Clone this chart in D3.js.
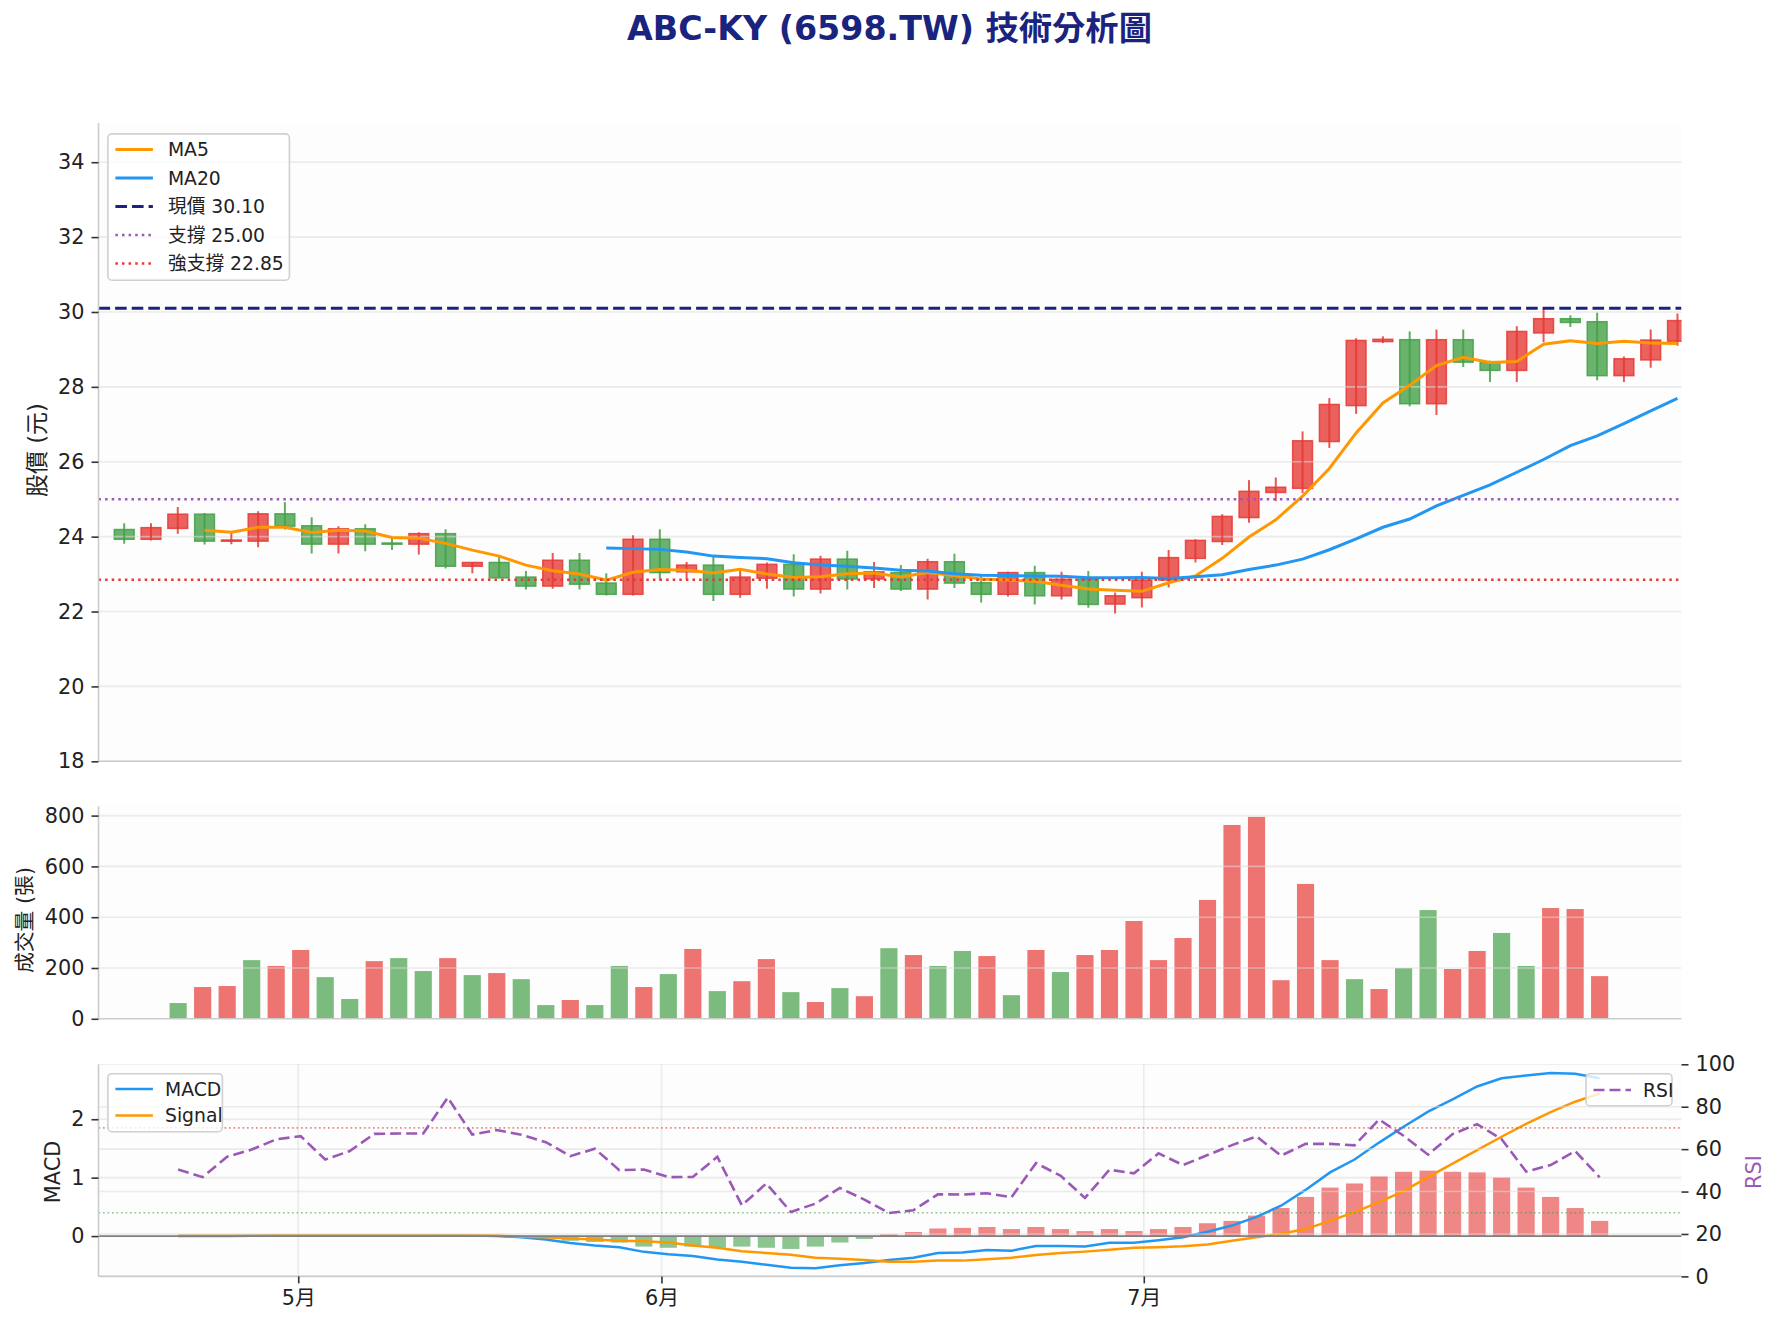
<!DOCTYPE html>
<html><head><meta charset="utf-8">
<script src="https://cdn.jsdelivr.net/npm/d3@7"></script>
<style>body{margin:0;background:#fff} svg{display:block}</style>
</head><body><svg id="c" width="1779" height="1327"></svg>
<script>
// ---------------- DATA ----------------
const openP  = [24.19,23.93,24.22,24.60,23.88,23.88,24.61,24.29,23.80,24.21,23.83,23.80,24.08,23.21,23.31,22.92,22.68,23.37,22.76,22.46,23.93,23.06,23.24,22.46,22.89,23.26,22.60,23.40,22.87,23.04,22.60,23.33,22.77,22.46,23.04,22.42,22.86,22.20,22.37,22.84,23.42,23.87,24.51,25.18,25.29,26.54,27.50,29.21,29.26,27.55,29.26,28.66,28.44,29.44,29.82,29.74,28.30,28.72,29.22];
const highP  = [24.36,24.36,24.79,24.63,24.15,24.68,24.92,24.52,24.28,24.33,23.97,24.12,24.20,23.31,23.50,23.08,23.56,23.56,23.02,24.04,24.20,23.32,23.46,23.08,23.31,23.53,23.49,23.62,23.32,23.24,23.41,23.54,22.95,23.06,23.22,23.06,23.08,22.51,23.06,23.64,23.93,24.60,25.51,25.58,26.81,27.70,29.30,29.35,29.48,29.53,29.53,28.70,29.62,30.12,29.91,29.98,28.81,29.53,29.96];
const lowP   = [23.81,23.90,24.08,23.79,23.80,23.72,24.19,23.55,23.55,23.61,23.64,23.52,23.15,23.02,22.90,22.59,22.61,22.59,22.43,22.43,22.84,22.86,22.28,22.37,22.61,22.40,22.48,22.59,22.63,22.55,22.32,22.63,22.24,22.40,22.19,22.32,22.10,21.95,22.11,22.64,23.31,23.78,24.37,24.95,25.16,26.37,27.28,29.17,27.48,27.25,28.53,28.13,28.13,29.19,29.60,28.18,28.13,28.51,29.10];
const closeP = [23.93,24.24,24.60,23.88,23.91,24.61,24.28,23.80,24.21,23.80,23.81,24.08,23.21,23.31,22.90,22.68,23.37,22.73,22.46,23.93,23.04,23.24,22.46,22.92,23.26,22.60,23.40,22.87,23.06,22.60,23.33,22.76,22.46,23.04,22.42,22.86,22.19,22.42,22.84,23.44,23.90,24.54,25.21,25.32,26.56,27.53,29.24,29.27,27.55,29.26,28.66,28.44,29.48,29.82,29.72,28.30,28.75,29.25,29.77];
const ma5  = [null,null,null,24.17,24.12,24.25,24.25,24.11,24.17,24.15,23.98,23.96,23.82,23.64,23.48,23.24,23.09,23.00,22.84,23.05,23.12,23.10,23.03,23.13,23.00,22.91,22.93,23.01,23.03,22.92,23.04,22.96,22.87,22.84,22.81,22.70,22.60,22.57,22.54,22.77,22.95,23.42,23.99,24.45,25.08,25.82,26.77,27.57,28.04,28.57,28.79,28.65,28.68,29.14,29.23,29.16,29.22,29.17,29.16];
const ma20 = [null,null,null,null,null,null,null,null,null,null,null,null,null,null,null,null,null,null,23.70,23.68,23.66,23.59,23.48,23.44,23.41,23.30,23.24,23.21,23.16,23.10,23.08,23.01,22.97,22.96,22.95,22.94,22.90,22.90,22.91,22.88,22.93,22.98,23.12,23.24,23.40,23.65,23.94,24.25,24.47,24.82,25.10,25.38,25.72,26.06,26.43,26.69,27.02,27.36,27.69];
const volume = [62,125,129,231,208,271,164,78,227,239,188,239,172,180,156,54,74,54,208,125,176,275,109,148,235,105,66,121,89,278,251,208,267,247,93,271,184,251,271,385,231,318,468,763,795,152,531,231,156,117,200,428,196,267,338,208,436,432,168];
const macd   = [0,0,0,0.005,0.01,0.01,0.01,0.01,0.01,0.01,0.01,0.015,0.01,0,-0.02,-0.06,-0.12,-0.16,-0.19,-0.27,-0.31,-0.34,-0.40,-0.44,-0.49,-0.54,-0.55,-0.50,-0.46,-0.41,-0.37,-0.29,-0.28,-0.24,-0.25,-0.17,-0.17,-0.18,-0.115,-0.115,-0.07,-0.02,0.075,0.18,0.33,0.52,0.79,1.09,1.31,1.60,1.87,2.13,2.34,2.56,2.70,2.75,2.79,2.78,2.70];
const signal = [0.005,0.005,0.005,0.006,0.008,0.009,0.01,0.01,0.01,0.01,0.01,0.012,0.012,0.01,-0.01,-0.02,-0.04,-0.06,-0.08,-0.09,-0.11,-0.16,-0.20,-0.26,-0.29,-0.32,-0.37,-0.39,-0.41,-0.44,-0.44,-0.42,-0.42,-0.395,-0.37,-0.325,-0.29,-0.266,-0.235,-0.20,-0.19,-0.175,-0.145,-0.08,-0.02,0.04,0.12,0.26,0.41,0.58,0.77,1.01,1.24,1.47,1.70,1.92,2.12,2.30,2.44];
const hist   = [-0.005,-0.005,-0.005,-0.001,0.002,0.001,0,0,0,0,0,0.003,-0.002,-0.01,-0.01,-0.04,-0.08,-0.10,-0.11,-0.18,-0.20,-0.18,-0.20,-0.18,-0.20,-0.22,-0.18,-0.11,-0.05,0.03,0.07,0.13,0.14,0.155,0.12,0.155,0.12,0.086,0.12,0.086,0.12,0.155,0.22,0.26,0.35,0.48,0.67,0.83,0.90,1.02,1.10,1.12,1.10,1.09,1.00,0.83,0.67,0.48,0.26];
const rsi    = [50.4,46.8,56.4,59.8,64.6,66.1,55.1,59.1,67.2,67.4,67.4,84.3,66.9,69.0,66.8,63.3,56.7,60.2,50.1,50.4,46.8,46.9,56.4,33.5,43.8,30.4,34.3,41.7,36.2,29.9,31.2,38.7,38.6,39.2,37.3,53.4,47.5,37.0,50.3,48.6,58.0,52.5,57.2,61.9,66.0,56.9,62.5,62.5,61.8,74.0,66.3,57.4,67.1,71.8,64.7,49.4,52.5,59.1,46.7];
const priceTicks = [18,20,22,24,26,28,30,32,34];
const volTicks = [0,200,400,600,800];
const macdTicks = [0,1,2];
const rsiTicks = [0,20,40,60,80,100];
const monthLabels = ['5月','6月','7月'];
const monthPos = [4.9,19.72,39.4];
const currentPrice = 30.10, support = 25.00, strongSupport = 22.85;
const rsiHigh = 70, rsiLow = 30;

// ---------------- LAYOUT ----------------
const FONT = "'DejaVu Sans','Noto Sans CJK TC','Noto Sans CJK SC',sans-serif";
const svg = d3.select('#c');
const L = 98.5, R = 1681.5;
const pp = {t:122.9, b:761.3}, vp = {t:806.2, b:1018.8}, mp = {t:1064.3, b:1276.4};
const RED = '#e53935', GREEN = '#43a047', BLUE = '#2196f3', ORANGE = '#ff9800', NAVY = '#1a237e', PURPLE = '#9b59b6';
const idx = d3.range(closeP.length);

const xP = d3.scaleLinear().domain([-0.96, 58.15]).range([L, R]);
const xV = d3.scaleLinear().domain([-3.25, 61.34]).range([L, R]);
const yP = d3.scaleLinear().domain([18, 35.05]).range([pp.b, pp.t]);
const yV = d3.scaleLinear().domain([0, 837]).range([vp.b, vp.t]);
const yM = d3.scaleLinear().domain([-0.69, 2.94]).range([mp.b, mp.t]);
const yR = d3.scaleLinear().domain([0, 100]).range([mp.b, mp.t]);

const defs = svg.append('defs');
function panel(name, p){
  defs.append('clipPath').attr('id','clip-'+name).append('rect')
    .attr('x',L).attr('y',p.t).attr('width',R-L).attr('height',p.b-p.t);
  svg.append('rect').attr('x',L).attr('y',p.t).attr('width',R-L).attr('height',p.b-p.t).attr('fill','#fdfdfd');
  return svg.append('g').attr('clip-path','url(#clip-'+name+')');
}
function hgrid(g, scale, ticks){
  g.selectAll(null).data(ticks).enter().append('line')
    .attr('x1',L).attr('x2',R).attr('y1',d=>scale(d)).attr('y2',d=>scale(d))
    .attr('stroke','#dcdcdc').attr('stroke-opacity',0.55).attr('stroke-width',1.6);
}
function leftAxis(scale, ticks, fmt){
  const g = svg.append('g').attr('transform',`translate(${L},0)`)
    .call(d3.axisLeft(scale).tickValues(ticks).tickSize(7).tickPadding(7).tickFormat(fmt||d3.format('d')));
  g.select('.domain').remove();
  g.selectAll('.tick line').attr('stroke','#333').attr('stroke-width',1.6);
  g.selectAll('.tick text').attr('font-family',FONT).attr('font-size',20.8).attr('fill','#222');
  return g;
}
function spines(p){
  svg.append('line').attr('x1',L).attr('x2',L).attr('y1',p.t).attr('y2',p.b).attr('stroke','#cccccc').attr('stroke-width',1.6);
  svg.append('line').attr('x1',L).attr('x2',R).attr('y1',p.b).attr('y2',p.b).attr('stroke','#cccccc').attr('stroke-width',1.6);
}
function ylabel(text, x, y, size, color){
  svg.append('text').attr('transform',`translate(${x},${y}) rotate(-90)`)
    .attr('text-anchor','middle').attr('dy','0.35em')
    .attr('font-family',FONT).attr('font-size',size).attr('fill',color||'#222').text(text);
}

// ---------------- TITLE ----------------
svg.append('text').attr('x',889.5).attr('y',40).attr('text-anchor','middle')
  .attr('font-family',FONT).attr('font-weight','bold').attr('font-size',33.3).attr('fill',NAVY)
  .text('ABC-KY (6598.TW) 技術分析圖');

// ---------------- PRICE PANEL ----------------
const gP = panel('p', pp);
const bw = (xP(1)-xP(0))*0.74;
const up = i => closeP[i] >= openP[i];
gP.selectAll('.body').data(idx).enter().append('rect')
  .attr('x',i=>xP(i)-bw/2).attr('width',bw)
  .attr('y',i=>yP(Math.max(openP[i],closeP[i])))
  .attr('height',i=>Math.max(1.2, Math.abs(yP(openP[i])-yP(closeP[i]))))
  .attr('fill',i=>up(i)?RED:GREEN).attr('fill-opacity',0.8)
  .attr('stroke',i=>up(i)?RED:GREEN).attr('stroke-opacity',0.85).attr('stroke-width',1.5);
hgrid(gP, yP, priceTicks);
gP.selectAll('.wick').data(idx).enter().append('line')
  .attr('x1',i=>xP(i)).attr('x2',i=>xP(i)).attr('y1',i=>yP(highP[i])).attr('y2',i=>yP(lowP[i]))
  .attr('stroke',i=>up(i)?RED:GREEN).attr('stroke-opacity',0.85).attr('stroke-width',2);
const lineP = d3.line().defined(d=>d[1]!=null).x(d=>xP(d[0])).y(d=>yP(d[1]));
gP.append('path').attr('d',lineP(idx.map(i=>[i,ma5[i]]))).attr('fill','none').attr('stroke',ORANGE).attr('stroke-width',3);
gP.append('path').attr('d',lineP(idx.map(i=>[i,ma20[i]]))).attr('fill','none').attr('stroke',BLUE).attr('stroke-width',3);
const hl = [
  {v:currentPrice, c:NAVY, w:3.1, dash:'11.6,5', o:1},
  {v:support, c:PURPLE, w:2.5, dash:'2.5,4.1', o:1},
  {v:strongSupport, c:RED, w:2.5, dash:'2.5,4.1', o:1}
];
gP.selectAll('.hl').data(hl).enter().append('line')
  .attr('x1',L).attr('x2',R).attr('y1',d=>yP(d.v)).attr('y2',d=>yP(d.v))
  .attr('stroke',d=>d.c).attr('stroke-width',d=>d.w).attr('stroke-dasharray',d=>d.dash).attr('opacity',d=>d.o);
spines(pp);
leftAxis(yP, priceTicks);
ylabel('股價 (元)', 36.5, 450, 22.9);

// legend
function legend(x, y, w, h, items, rowY, hx1, hx2, tx){
  const g = svg.append('g');
  g.append('rect').attr('x',x).attr('y',y).attr('width',w).attr('height',h).attr('rx',4)
    .attr('fill','#fff').attr('fill-opacity',0.8).attr('stroke','#d0d0d0').attr('stroke-width',1.6);
  items.forEach((it,k)=>{
    const yy = rowY[k];
    g.append('line').attr('x1',hx1).attr('x2',hx2).attr('y1',yy).attr('y2',yy)
      .attr('stroke',it.c).attr('stroke-width',it.w).attr('stroke-dasharray',it.dash||null);
    g.append('text').attr('x',tx).attr('y',yy).attr('dy','0.36em').attr('font-family',FONT)
      .attr('font-size',18.75).attr('fill','#222').text(it.label);
  });
}
legend(107.9, 133.9, 181.5, 146.3, [
  {label:'MA5', c:ORANGE, w:3},
  {label:'MA20', c:BLUE, w:3},
  {label:'現價 ' + currentPrice.toFixed(2), c:NAVY, w:3.1, dash:'11.6,5'},
  {label:'支撐 ' + support.toFixed(2), c:PURPLE, w:2.5, dash:'2.5,4.1'},
  {label:'強支撐 ' + strongSupport.toFixed(2), c:RED, w:2.5, dash:'2.5,4.1'}
], [149.5,178,206.5,235,263.5], 115.4, 152.9, 167.9);

// ---------------- VOLUME PANEL ----------------
const gV = panel('v', vp);
const vbw = (xV(1)-xV(0))*0.7;
gV.selectAll('.vb').data(idx).enter().append('rect')
  .attr('x',i=>xV(i)-vbw/2).attr('width',vbw)
  .attr('y',i=>yV(volume[i])).attr('height',i=>yV(0)-yV(volume[i]))
  .attr('fill',i=>up(i)?RED:GREEN).attr('fill-opacity',0.7);
hgrid(gV, yV, volTicks);
spines(vp);
leftAxis(yV, volTicks);
ylabel('成交量 (張)', 24.5, 920, 20.8);

// ---------------- MACD / RSI PANEL ----------------
const gM = panel('m', mp);
hgrid(gM, yM, macdTicks);
gM.selectAll('.vg').data(monthPos).enter().append('line')
  .attr('x1',d=>xV(d)).attr('x2',d=>xV(d)).attr('y1',mp.t).attr('y2',mp.b)
  .attr('stroke','#dcdcdc').attr('stroke-opacity',0.55).attr('stroke-width',1.6);
gM.selectAll('.hb').data(idx).enter().append('rect')
  .attr('x',i=>xV(i)-vbw/2).attr('width',vbw)
  .attr('y',i=>yM(Math.max(0,hist[i]))).attr('height',i=>Math.abs(yM(hist[i])-yM(0)))
  .attr('fill',i=>hist[i]>=0?RED:GREEN).attr('fill-opacity',0.6);
const lineM = d3.line().x(d=>xV(d[0])).y(d=>yM(d[1]));
gM.append('path').attr('d',lineM(idx.map(i=>[i,macd[i]]))).attr('fill','none').attr('stroke',BLUE).attr('stroke-width',2.5);
gM.append('path').attr('d',lineM(idx.map(i=>[i,signal[i]]))).attr('fill','none').attr('stroke',ORANGE).attr('stroke-width',2.5);
gM.append('line').attr('x1',L).attr('x2',R).attr('y1',yM(0)).attr('y2',yM(0)).attr('stroke','#808080').attr('stroke-width',1.7);
// twin RSI axis
hgrid(gM, yR, rsiTicks);
gM.selectAll('.th').data([{v:rsiHigh,c:RED},{v:rsiLow,c:GREEN}]).enter().append('line')
  .attr('x1',L).attr('x2',R).attr('y1',d=>yR(d.v)).attr('y2',d=>yR(d.v))
  .attr('stroke',d=>d.c).attr('stroke-opacity',0.6).attr('stroke-width',1.7).attr('stroke-dasharray','1.7,2.8');
const lineR = d3.line().x(d=>xV(d[0])).y(d=>yR(d[1]));
gM.append('path').attr('d',lineR(idx.map(i=>[i,rsi[i]]))).attr('fill','none').attr('stroke',PURPLE)
  .attr('stroke-width',2.6).attr('stroke-dasharray','11,5');
spines(mp);
leftAxis(yM, macdTicks);
const ra = svg.append('g').attr('transform',`translate(${R},0)`)
  .call(d3.axisRight(yR).tickValues(rsiTicks).tickSize(7).tickPadding(7).tickFormat(d3.format('d')));
ra.select('.domain').remove();
ra.selectAll('.tick line').attr('stroke','#333').attr('stroke-width',1.6);
ra.selectAll('.tick text').attr('font-family',FONT).attr('font-size',20.8).attr('fill','#222');
ylabel('MACD', 52.5, 1172, 20.8);
ylabel('RSI', 1754, 1172, 20.8, PURPLE);
// x axis month ticks
const xa = svg.append('g').attr('transform',`translate(0,${mp.b})`)
  .call(d3.axisBottom(xV).tickValues(monthPos).tickSize(7).tickPadding(7).tickFormat((d,k)=>monthLabels[k]));
xa.select('.domain').remove();
xa.selectAll('.tick line').attr('stroke','#333').attr('stroke-width',1.6);
xa.selectAll('.tick text').attr('font-family',FONT).attr('font-size',20.8).attr('fill','#222');

legend(107.9, 1073.7, 114.5, 58, [
  {label:'MACD', c:BLUE, w:2.5},
  {label:'Signal', c:ORANGE, w:2.5}
], [1089,1115.5], 115.4, 152.9, 165);
legend(1586, 1073.7, 86, 32, [
  {label:'RSI', c:PURPLE, w:2.6, dash:'11,5'}
], [1090], 1593.5, 1631, 1643);
</script></body></html>
